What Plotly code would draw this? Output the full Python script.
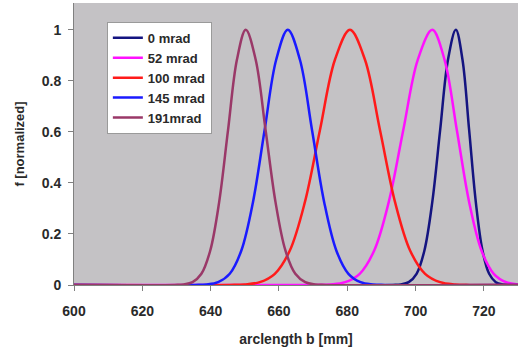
import plotly.graph_objects as go

# Series (arclength b in mm, normalized f)
x_0mrad = [600, 693.4, 695.7, 698.0, 700.3, 702.6, 704.9, 707.2, 709.5, 711.8,
           713.75, 715.7, 717.65, 719.6, 721.55, 723.5, 725.45, 727.4, 730]
y_0mrad = [0, 0.0003, 0.0022, 0.0111, 0.0439, 0.1353, 0.3247, 0.6065, 0.8825, 1,
           0.8825, 0.6065, 0.3247, 0.1353, 0.0439, 0.0111, 0.0022, 0.0003, 0]

x_52mrad = [600, 670.9, 675.15, 679.4, 683.65, 687.9, 692.15, 696.4, 700.65, 704.9,
            708.5, 712.1, 715.7, 719.3, 722.9, 726.5, 730.1, 733.7]
y_52mrad = [0, 0.0003, 0.0022, 0.0111, 0.0439, 0.1353, 0.3247, 0.6065, 0.8825, 1,
            0.8825, 0.6065, 0.3247, 0.1353, 0.0439, 0.0111, 0.0022, 0.0003]

x_100mrad = [600, 645.6, 650.0, 654.4, 658.8, 663.2, 667.6, 672.0, 676.4, 680.8,
             685.2, 689.6, 694.0, 698.4, 702.8, 707.2, 711.6, 716.0, 730]
y_100mrad = [0, 0.0003, 0.0022, 0.0111, 0.0439, 0.1353, 0.3247, 0.6065, 0.8825, 1,
             0.8825, 0.6065, 0.3247, 0.1353, 0.0439, 0.0111, 0.0022, 0.0003, 0]

x_145mrad = [600, 635.4, 638.8, 642.2, 645.6, 649.0, 652.4, 655.8, 659.2, 662.6,
             666.15, 669.7, 673.25, 676.8, 680.35, 683.9, 687.45, 691.0, 730]
y_145mrad = [0, 0.0003, 0.0022, 0.0111, 0.0439, 0.1353, 0.3247, 0.6065, 0.8825, 1,
             0.8825, 0.6065, 0.3247, 0.1353, 0.0439, 0.0111, 0.0022, 0.0003, 0]

x_191mrad = [600, 629.5, 632.1, 634.7, 637.3, 639.9, 642.5, 645.1, 647.7, 650.3,
             653.2, 656.1, 659.0, 661.9, 664.8, 667.7, 670.6, 673.5, 730]
y_191mrad = [0, 0.0003, 0.0022, 0.0111, 0.0439, 0.1353, 0.3247, 0.6065, 0.8825, 1,
             0.8825, 0.6065, 0.3247, 0.1353, 0.0439, 0.0111, 0.0022, 0.0003, 0]

series_names = ["0 mrad", "52 mrad", "100 mrad", "145 mrad", "191mrad"]
series_x = [x_0mrad, x_52mrad, x_100mrad, x_145mrad, x_191mrad]
series_y = [y_0mrad, y_52mrad, y_100mrad, y_145mrad, y_191mrad]
series_colors = ["#141480", "#FF10FF", "#FF1A1A", "#1A1AFF", "#9A3868"]

x_ticks = [600, 620, 640, 660, 680, 700, 720]
y_ticks = [0, 0.2, 0.4, 0.6, 0.8, 1]
y_tick_labels = ["0", "0.2", "0.4", "0.6", "0.8", "1"]

FONT = "Liberation Sans, Arial, sans-serif"
TXT = "#2a2a2a"

fig = go.Figure()
for name, xs, ys, col in zip(series_names, series_x, series_y, series_colors):
    fig.add_trace(go.Scatter(
        x=xs, y=ys, name=name, mode="lines",
        line=dict(color=col, width=2.5, shape="spline", smoothing=1.0),
    ))

fig.update_layout(
    width=518, height=357,
    margin=dict(l=74, r=0, t=3, b=72),
    paper_bgcolor="white",
    plot_bgcolor="#C4C2C5",
    font=dict(family=FONT, size=14, color=TXT, weight="bold"),
    showlegend=True,
    legend=dict(
        x=0.074, y=0.933, xanchor="left", yanchor="top",
        bgcolor="white", bordercolor="#9a9a9a", borderwidth=1,
        font=dict(family=FONT, size=13, color=TXT, weight="bold"),
        itemwidth=30, tracegroupgap=0,
    ),
)
fig.update_xaxes(
    range=[600, 730], tickvals=x_ticks, ticks="outside", ticklen=5,
    tickcolor="#808080", showline=True, linecolor="#808080", linewidth=1,
    showgrid=False, zeroline=False, ticklabelstandoff=8,
    tickfont=dict(family=FONT, size=14, color=TXT, weight="bold"),
    title=dict(text="arclength b [mm]", standoff=16,
               font=dict(family=FONT, size=14, color=TXT, weight="bold")),
)
fig.update_yaxes(
    range=[0, 1.105], tickvals=y_ticks, ticktext=y_tick_labels,
    ticks="outside", ticklen=5, tickcolor="#808080",
    showline=True, linecolor="#808080", linewidth=1,
    showgrid=False, zeroline=False, ticklabelstandoff=4,
    tickfont=dict(family=FONT, size=14, color=TXT, weight="bold"),
    title=dict(text="f [normalized]", standoff=14,
               font=dict(family=FONT, size=13, color=TXT, weight="bold")),
)

fig.write_html("out.html")
